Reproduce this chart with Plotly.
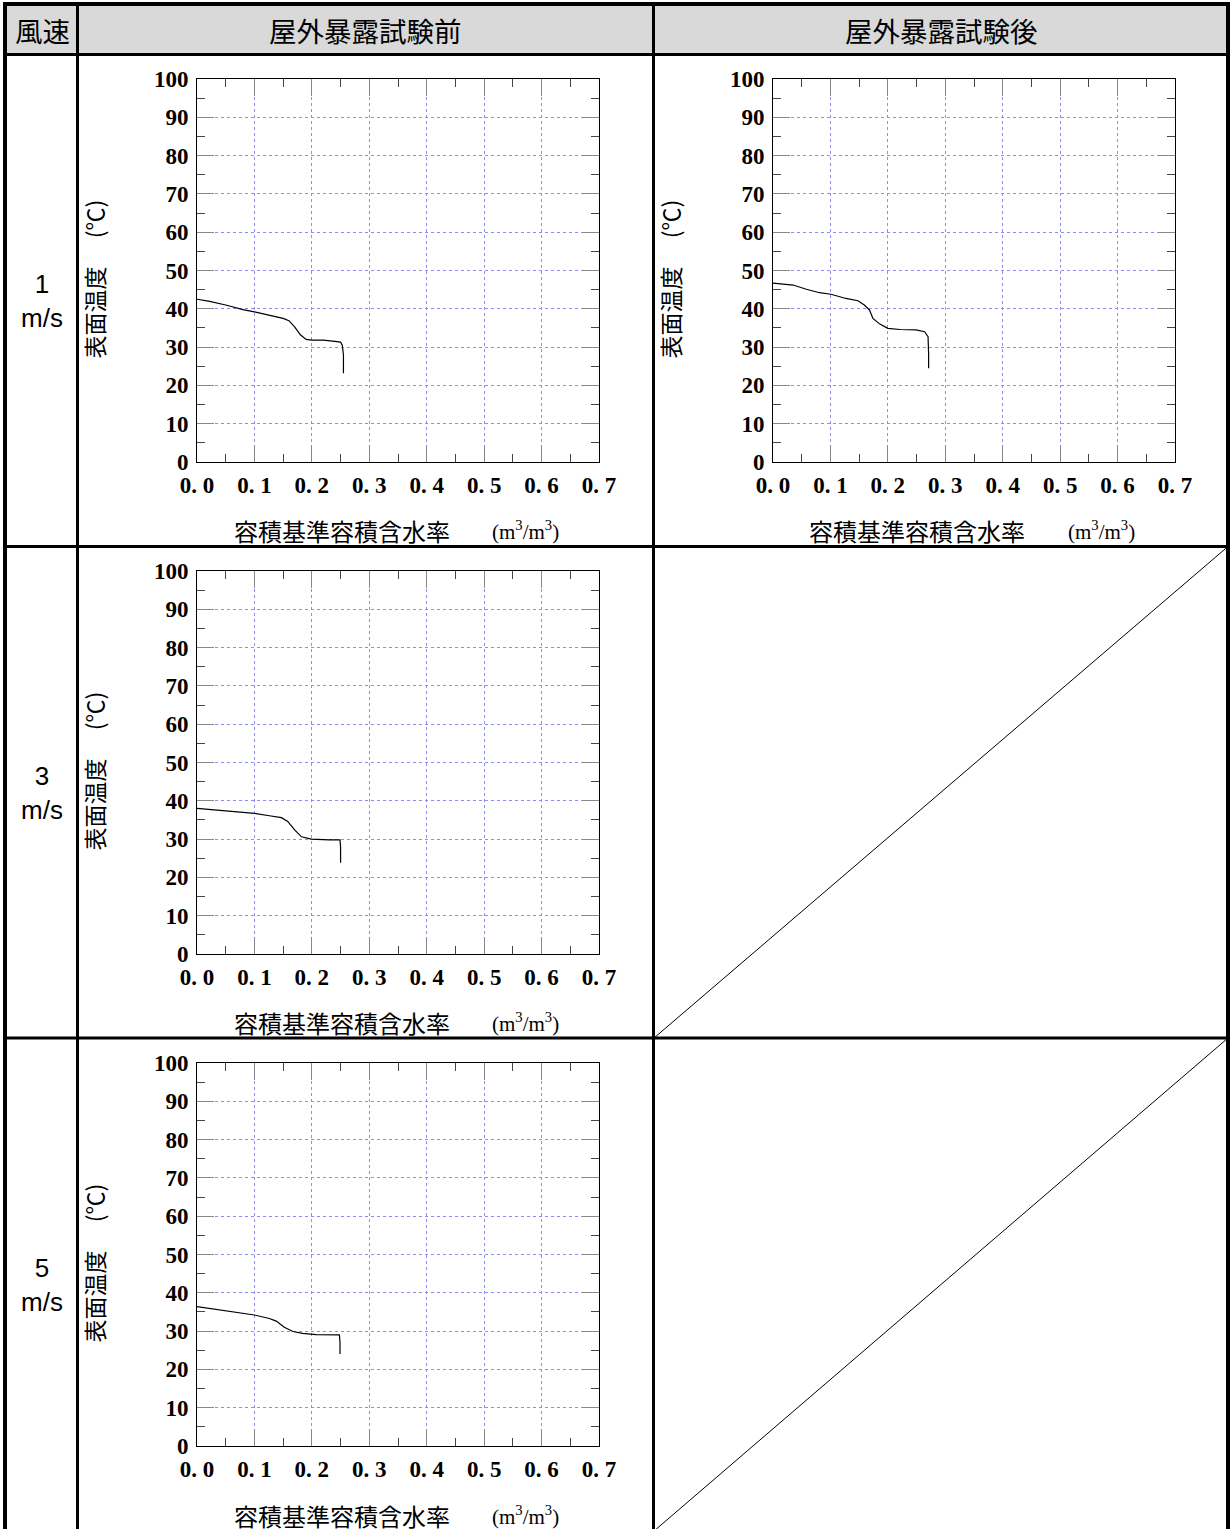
import plotly.graph_objects as go

W, H = 1231, 1529

# ---------------- data ----------------
header_labels = ["風速", "屋外暴露試験前", "屋外暴露試験後"]
row_labels = ["1<br>m/s", "3<br>m/s", "5<br>m/s"]
x_tick_vals = [0.0, 0.1, 0.2, 0.3, 0.4, 0.5, 0.6, 0.7]
x_tick_text = ["0. 0", "0. 1", "0. 2", "0. 3", "0. 4", "0. 5", "0. 6", "0. 7"]
y_tick_vals = [0, 10, 20, 30, 40, 50, 60, 70, 80, 90, 100]
y_tick_text = ["0", "10", "20", "30", "40", "50", "60", "70", "80", "90", "100"]
y_title = "表面温度　 (℃)"
x_title = "容積基準容積含水率"
x_unit = "(m<sup>3</sup>/m<sup>3</sup>)"

# 1 m/s, before exposure
v1_before = [0.0, 0.02, 0.05, 0.08, 0.10, 0.13, 0.15, 0.16, 0.17, 0.18, 0.19, 0.20, 0.22, 0.24, 0.25, 0.253, 0.255, 0.255]
t1_before = [42.5, 42.0, 41.0, 39.8, 39.2, 38.2, 37.5, 36.9, 35.3, 33.2, 32.0, 31.8, 31.8, 31.5, 31.3, 30.5, 28.0, 23.2]
# 1 m/s, after exposure
v1_after = [0.0, 0.035, 0.058, 0.081, 0.101, 0.127, 0.148, 0.159, 0.168, 0.174, 0.186, 0.200, 0.221, 0.249, 0.264, 0.270, 0.271, 0.271]
t1_after = [46.7, 46.2, 45.1, 44.2, 43.8, 42.7, 42.1, 41.0, 39.7, 37.5, 36.0, 34.9, 34.6, 34.5, 34.0, 32.7, 28.0, 24.5]
# 3 m/s, before exposure
v3_before = [0.0, 0.052, 0.10, 0.126, 0.147, 0.158, 0.170, 0.182, 0.199, 0.230, 0.249, 0.250, 0.250]
t3_before = [38.0, 37.4, 36.7, 36.1, 35.6, 34.6, 32.4, 30.6, 30.0, 29.8, 29.8, 28.0, 23.8]
# 5 m/s, before exposure
v5_before = [0.0, 0.052, 0.10, 0.126, 0.138, 0.152, 0.167, 0.184, 0.207, 0.248, 0.249, 0.249]
t5_before = [36.4, 35.3, 34.2, 33.3, 32.6, 31.0, 29.9, 29.4, 29.1, 29.0, 27.0, 24.0]

# ---------------- layout geometry (pixels) ----------------
col_lines = [77.5, 653.5]
row_lines = [546.5, 1038.0]
row_tops = [55.0, 547.0, 1039.0]
plots = [  # (xdata, ydata, col_left, row_top)
    (v1_before, t1_before, 77.5, 55.0),
    (v1_after, t1_after, 653.5, 55.0),
    (v3_before, t3_before, 77.5, 547.0),
    (v5_before, t5_before, 77.5, 1039.0),
]


def px(x):
    return x / W


def py(y):
    return 1 - y / H


fig = go.Figure()
shapes = []
annotations = []

SERIF = "Liberation Serif"
CJK = "Noto Sans CJK JP"

for i, (xd, yd, cl, rt) in enumerate(plots):
    k = "" if i == 0 else str(i + 1)
    left = cl + 119.5
    right = left + 402
    top = rt + 24
    bottom = rt + 407
    fig.add_trace(go.Scatter(x=xd, y=yd, mode="lines",
                             line=dict(color="black", width=1.2),
                             xaxis="x" + k, yaxis="y" + k, showlegend=False,
                             hoverinfo="skip"))
    common = dict(showline=True, linecolor="black", linewidth=1, mirror="ticks",
                  ticks="inside", ticklen=17, tickcolor="#888888", tickwidth=1,
                  showgrid=True, gridcolor="#8c8cff", griddash="dot", gridwidth=1,
                  zeroline=False, fixedrange=True, automargin=False,
                  tickfont=dict(family=SERIF, size=23, color="black", weight="bold"))
    fig.update_layout(**{
        "xaxis" + k: dict(common, domain=[px(left), px(right)], range=[0, 0.7],
                          anchor="y" + k, tickmode="array", tickvals=x_tick_vals,
                          ticktext=x_tick_text, ticklabelstandoff=2,
                          minor=dict(ticks="inside", ticklen=8, dtick=0.05,
                                     tickcolor="#444444", showgrid=False)),
        "yaxis" + k: dict(common, domain=[py(bottom), py(top)], range=[0, 100],
                          anchor="x" + k, tickmode="array", tickvals=y_tick_vals,
                          ticktext=y_tick_text, ticklabelstandoff=3,
                          minor=dict(ticks="inside", ticklen=8, dtick=5,
                                     tickcolor="#444444", showgrid=False)),
    })
    # y-axis title (rotated)
    annotations.append(dict(x=px(cl + 16), y=py(rt + 224), xref="paper", yref="paper",
                            text=y_title, textangle=-90, showarrow=False,
                            xanchor="center", yanchor="middle",
                            font=dict(family=CJK, size=23, color="black")))
    # x-axis title
    annotations.append(dict(x=px(cl + 154), y=py(rt + 476), xref="paper", yref="paper",
                            text=x_title, showarrow=False, xanchor="left", yanchor="middle",
                            font=dict(family=CJK, size=24, color="black")))
    annotations.append(dict(x=px(cl + 412), y=py(rt + 476), xref="paper", yref="paper",
                            text=x_unit, showarrow=False, xanchor="left", yanchor="middle",
                            font=dict(family=SERIF, size=21, color="black")))

# header fill
shapes.append(dict(type="rect", xref="paper", yref="paper", x0=px(6), x1=px(1227),
                   y0=py(53), y1=py(5), fillcolor="#d9d9d9", line=dict(width=0), layer="below"))
# diagonals in empty cells
for rt, rb in [(546.5, 1038.0), (1038.0, 1531.0)]:
    shapes.append(dict(type="line", xref="paper", yref="paper", x0=px(654), y0=py(rb),
                       x1=px(1228), y1=py(rt), line=dict(color="black", width=1)))
# table lines
shapes.append(dict(type="line", xref="paper", yref="paper", x0=px(3), x1=px(1230),
                   y0=py(4), y1=py(4), line=dict(color="black", width=4)))
shapes.append(dict(type="line", xref="paper", yref="paper", x0=px(5), x1=px(5),
                   y0=py(2), y1=py(1535), line=dict(color="black", width=4)))
shapes.append(dict(type="line", xref="paper", yref="paper", x0=px(1228), x1=px(1228),
                   y0=py(2), y1=py(1535), line=dict(color="black", width=4)))
shapes.append(dict(type="line", xref="paper", yref="paper", x0=px(5), x1=px(1228),
                   y0=py(54.5), y1=py(54.5), line=dict(color="black", width=3)))
for yl in row_lines:
    shapes.append(dict(type="line", xref="paper", yref="paper", x0=px(5), x1=px(1228),
                       y0=py(yl), y1=py(yl), line=dict(color="black", width=3)))
for xl in col_lines:
    shapes.append(dict(type="line", xref="paper", yref="paper", x0=px(xl), x1=px(xl),
                       y0=py(2), y1=py(1535), line=dict(color="black", width=3)))

# header texts
for lab, xc in zip(header_labels, [42, 365.5, 941]):
    annotations.append(dict(x=px(xc), y=py(30), xref="paper", yref="paper", text=lab,
                            showarrow=False, xanchor="center", yanchor="middle",
                            font=dict(family=CJK, size=27.5, color="black")))
# row labels
for lab, rt in zip(row_labels, row_tops):
    annotations.append(dict(x=px(42), y=py(rt + 246), xref="paper", yref="paper", text=lab,
                            showarrow=False, xanchor="center", yanchor="middle",
                            font=dict(family="Liberation Sans", size=26, color="black")))

fig.update_layout(width=W, height=H,
                  margin=dict(l=0, r=0, t=0, b=0, pad=0, autoexpand=False),
                  paper_bgcolor="white", plot_bgcolor="white",
                  shapes=shapes, annotations=annotations, showlegend=False)

fig.write_html("out.html", post_script="document.body.style.margin='0';",
               config={"displayModeBar": False, "responsive": False})
